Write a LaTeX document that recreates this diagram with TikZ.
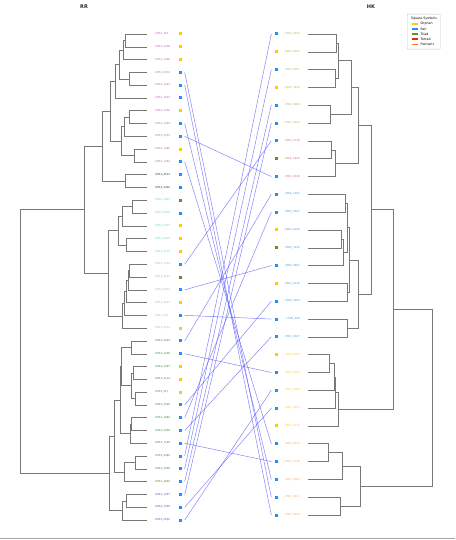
\documentclass[tikz,border=0pt]{standalone}
\usepackage{fontspec}
\setmainfont{DejaVu Sans}
\usetikzlibrary{calc}

\definecolor{treegray}{RGB}{120,120,120}
\definecolor{pairblue}{RGB}{80,80,250}
\definecolor{orph}{RGB}{255,204,0}
\definecolor{pair}{RGB}{30,144,255}
\definecolor{triad}{RGB}{107,142,35}
\definecolor{tetrad}{RGB}{230,40,40}
\definecolor{pentad}{RGB}{240,120,30}
\definecolor{cpur}{RGB}{200,80,210}
\definecolor{cblk}{RGB}{40,40,40}
\definecolor{ccyan}{RGB}{70,215,215}
\definecolor{cgry}{RGB}{175,175,175}
\definecolor{cgrn}{RGB}{30,140,30}
\definecolor{cvio}{RGB}{80,60,230}
\definecolor{colv}{RGB}{150,185,70}
\definecolor{cred}{RGB}{240,90,90}
\definecolor{clbl}{RGB}{60,150,245}
\definecolor{cyel}{RGB}{255,200,0}
\definecolor{cora}{RGB}{255,165,60}

% join two children (#2, #3) at x=#4 into internal node #1
\newcommand{\mrg}[4]{%
  \path let \p1=(#2), \p2=(#3) in coordinate (#1) at ({#4pt},{0.5*\y1+0.5*\y2});
  \draw[branch] (#2) -| (#1);
  \draw[branch] (#3) -| (#1);}

\begin{document}
\begin{tikzpicture}[x=1pt, y=-1pt,
  branch/.style={draw=treegray, line width=0.5pt},
  leaflab/.style={font=\fontsize{2.6}{3}\selectfont, inner sep=0pt},
  sqr/.style={rectangle, minimum size=3pt, inner sep=0pt},
  pairline/.style={draw=pairblue, line width=0.5pt, opacity=0.7},
  treetitle/.style={font=\fontsize{5}{6}\selectfont\bfseries, text=cblk},
  legtxt/.style={font=\fontsize{3.2}{4}\selectfont, inner sep=0pt}]
  \useasboundingbox (0,0) rectangle (455,540);
  % Titles
  \node[treetitle] (rrtitle) at (84,7) {RR};
  \node[treetitle] (hktitle) at (371,7) {HK};
  % RR leaves
  \foreach \i/\lab/\col/\sq in {1/167/cpur/orph, 2/4309/cpur/orph, 3/2286/cpur/orph,
    4/3674/cpur/pair, 5/3443/cpur/pair, 6/1824/cpur/pair, 7/2356/cpur/orph,
    8/2364/cpur/pair, 9/4507/cpur/pair, 10/1485/cpur/orph, 11/1464/cpur/pair,
    12/4513/cblk/pair, 13/4462/cblk/pair, 14/1823/ccyan/triad, 15/3536/ccyan/pair,
    16/4307/ccyan/orph, 17/3229/ccyan/orph, 18/3115/ccyan/orph, 19/3729/cgry/pair,
    20/3197/cgry/triad, 21/4654/cgry/pair, 22/3143/cgry/orph, 23/347/cgry/pair,
    24/3531/cgry/orph, 25/4324/cgrn/pair, 26/3209/cgrn/pair, 27/2297/cgrn/orph,
    28/3114/cgrn/orph, 29/317/cgrn/orph, 30/3546/cgrn/pair, 31/1864/cgrn/pair,
    32/3436/cgrn/pair, 33/7149/cgrn/pair, 34/4463/cgrn/pair, 35/3369/cgrn/pair,
    36/1802/cgrn/pair, 37/1457/cvio/pair, 38/1304/cvio/pair, 39/2032/cvio/pair} {
    \coordinate (L\i) at (147,{34+(\i-1)*12.79});
    \node[leaflab, anchor=west, text=\col] (Ll\i) at (155,{34+(\i-1)*12.79}) {UTR2\_\lab};
    \node[sqr, fill=\sq] (Ls\i) at (180,{34+(\i-1)*12.79}) {};
  }
  % HK leaves
  \foreach \j/\lab/\col/\sq in {1/3332/colv/pair, 2/3305/colv/orph, 3/1951/colv/pair,
    4/3236/colv/orph, 5/3909/colv/pair, 6/3352/colv/pair, 7/2718/cred/pair,
    8/1825/cred/triad, 9/2036/cred/pair, 10/1952/clbl/pair, 11/3347/clbl/pair,
    12/1468/clbl/orph, 13/3130/clbl/triad, 14/0803/clbl/pair, 15/3116/clbl/orph,
    16/3364/clbl/pair, 17/548/clbl/pair, 18/3327/clbl/pair, 19/3385/cyel/orph,
    20/3359/cyel/pair, 21/1366/cyel/pair, 22/3072/cyel/pair, 23/3110/cyel/orph,
    24/1470/cora/pair, 25/7148/cora/pair, 26/3365/cora/pair, 27/3411/cora/pair,
    28/3400/cora/pair} {
    \coordinate (R\j) at (308,{34+(\j-1)*17.815});
    \node[leaflab, anchor=east, text=\col] (Rl\j) at (300,{34+(\j-1)*17.815}) {UTR2\_\lab};
    \node[sqr, fill=\sq] (Rs\j) at (276,{34+(\j-1)*17.815}) {};
  }
  % RR tree
  \mrg{a12}{L1}{L2}{125}
  \mrg{a13}{a12}{L3}{123}
  \mrg{a45}{L4}{L5}{129}
  \mrg{a15}{a13}{a45}{119}
  \mrg{a16}{a15}{L6}{115}
  \mrg{a78}{L7}{L8}{129}
  \mrg{a79}{a78}{L9}{124}
  \mrg{a1011}{L10}{L11}{134}
  \mrg{a711}{a79}{a1011}{121.7}
  \mrg{a111}{a16}{a711}{110}
  \mrg{a1213}{L12}{L13}{125}
  \mrg{a113}{a111}{a1213}{102.7}
  \mrg{a1415}{L14}{L15}{132}
  \mrg{a1416}{a1415}{L16}{122}
  \mrg{a1718}{L17}{L18}{126.7}
  \mrg{a1418}{a1416}{a1718}{118.5}
  \mrg{a1920}{L19}{L20}{129.3}
  \mrg{a1921}{a1920}{L21}{128}
  \mrg{a1922}{a1921}{L22}{126.7}
  \mrg{a1923}{a1922}{L23}{124}
  \mrg{a1924}{a1923}{L24}{122.7}
  \mrg{a1424}{a1418}{a1924}{108}
  \mrg{atop}{a113}{a1424}{84}
  \mrg{a2526}{L25}{L26}{131.7}
  \mrg{a2728}{L27}{L28}{133}
  \mrg{a2930}{L29}{L30}{135}
  \mrg{a2730}{a2728}{a2930}{131}
  \mrg{a2530}{a2526}{a2730}{121.7}
  \mrg{a3132}{L31}{L32}{131.7}
  \mrg{a3133}{a3132}{L33}{130.7}
  \mrg{a2533}{a2530}{a3133}{120.7}
  \mrg{a3435}{L34}{L35}{135.7}
  \mrg{a3436}{a3435}{L36}{124}
  \mrg{a2536}{a2533}{a3436}{114}
  \mrg{a3738}{L37}{L38}{126}
  \mrg{a3739}{a3738}{L39}{122.3}
  \mrg{abot}{a2536}{a3739}{109}
  \mrg{aroot}{atop}{abot}{20}
  % HK tree
  \mrg{b12}{R1}{R2}{336.7}
  \mrg{b34}{R3}{R4}{335}
  \mrg{b14}{b12}{b34}{338.5}
  \mrg{b56}{R5}{R6}{330.7}
  \mrg{b16}{b14}{b56}{351.7}
  \mrg{b78}{R7}{R8}{331.7}
  \mrg{b79}{b78}{R9}{335}
  \mrg{b19}{b16}{b79}{358}
  \mrg{b1011}{R10}{R11}{345}
  \mrg{b1213}{R12}{R13}{341.7}
  \mrg{b1214}{b1213}{R14}{343.3}
  \mrg{b1014}{b1011}{b1214}{347}
  \mrg{b1516}{R15}{R16}{347.3}
  \mrg{b1016}{b1014}{b1516}{349.3}
  \mrg{b1718}{R17}{R18}{347.3}
  \mrg{b1018}{b1016}{b1718}{358.3}
  \mrg{b118}{b19}{b1018}{371.7}
  \mrg{b1920}{R19}{R20}{329.3}
  \mrg{b1921}{b1920}{R21}{334}
  \mrg{b1922}{b1921}{R22}{335.3}
  \mrg{b1923}{b1922}{R23}{338.3}
  \mrg{b123}{b118}{b1923}{393}
  \mrg{b2425}{R24}{R25}{328.3}
  \mrg{b2426}{b2425}{R26}{342.7}
  \mrg{b2728}{R27}{R28}{340.7}
  \mrg{b2428}{b2426}{b2728}{360}
  \mrg{broot}{b123}{b2428}{432}
  % Pair links
  \foreach \a/\b in {4/27, 5/28, 8/26, 11/24, 9/9, 21/14, 23/17, 26/20, 33/25, 19/7,
    25/10, 30/16, 31/11, 32/18, 34/1, 35/3, 36/5, 37/6, 38/22, 39/21}
    \draw[pairline] ([xshift=3pt]Ls\a.east) -- ([xshift=-3pt]Rs\b.west);
  % Legend
  \node[draw=gray!45, line width=0.4pt, rounded corners=0.6pt, minimum width=33pt,
    minimum height=35pt, inner sep=0pt, anchor=north west] (legbox) at (407,14) {};
  \node[legtxt] (legtitle) at (424,18.3) {Square Symbols};
  \foreach \k/\nm/\c in {0/Orphan/orph, 1/Pair/pair, 2/Triad/triad, 3/Tetrad/tetrad, 4/Pentad+/pentad} {
    \coordinate (lm\k) at (412,{24+\k*5.07});
    \draw[\c, line width=1.5pt] (lm\k) -- ++(5.5,0);
    \node[legtxt, anchor=west] (lt\k) at (420.5,{24+\k*5.07}) {\nm};
  }
  % bottom rule
  \coordinate (rulel) at (0,538);
  \coordinate (ruler) at (455,538);
  \draw[gray!70, line width=0.5pt] (rulel) -- (ruler);
\end{tikzpicture}
\end{document}
